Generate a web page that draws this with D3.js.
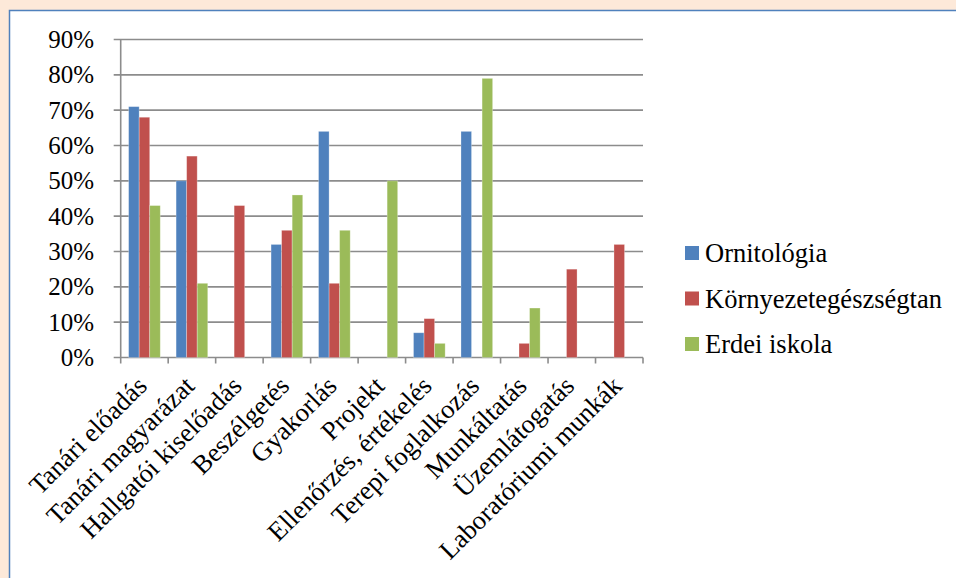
<!DOCTYPE html>
<html>
<head>
<meta charset="utf-8">
<script src="https://cdn.jsdelivr.net/npm/d3@7"></script>
<style>
  body { margin: 0; background: #fde9d9; }
  svg { display: block; }
</style>
</head>
<body>
<svg class="chart" width="956" height="578"></svg>
<script>
// categories and values (percent)
const categories = ["Tanári előadás", "Tanári magyarázat", "Hallgatói kiselőadás", "Beszélgetés",
  "Gyakorlás", "Projekt", "Ellenőrzés, értékelés", "Terepi foglalkozás", "Munkáltatás",
  "Üzemlátogatás", "Laboratóriumi munkák"]
const seriesNames = ["Ornitológia", "Környezetegészségtan", "Erdei iskola"]
const ornitologia = [71, 50, 0, 32, 64, 0, 7, 64, 0, 0, 0]
const kornyezet = [68, 57, 43, 36, 21, 0, 11, 0, 4, 25, 32]
const erdei = [43, 21, 0, 46, 36, 50, 4, 79, 14, 0, 0]
const yTicks = [0, 10, 20, 30, 40, 50, 60, 70, 80, 90]
const colors = ["#4f81bd", "#c0504d", "#9bbb59"]

const font = "'Liberation Serif', 'Times New Roman', 'DejaVu Serif', serif"

const svg = d3.select("svg.chart")
  .attr("font-family", font)

// white chart area with blue border
svg.append("rect")
  .attr("x", 9.5).attr("y", 10.5)
  .attr("width", 960).attr("height", 580)
  .attr("fill", "#fff")
  .attr("stroke", "#4f81bd")
  .attr("stroke-width", 1.5)

const plotLeft = 120.7, plotRight = 643, plotTop = 39.5, plotBottom = 357.5

const x = d3.scaleBand()
  .domain(categories)
  .range([plotLeft, plotRight])

const y = d3.scaleLinear()
  .domain([0, 90])
  .range([plotBottom, plotTop])

const inner = d3.scaleBand()
  .domain(seriesNames)
  .range([0, x.bandwidth()])
  .paddingInner(0)
  .paddingOuter(0.75)

// gridlines
svg.append("g")
  .selectAll("line")
  .data(yTicks)
  .enter()
  .append("line")
  .attr("x1", plotLeft - 7).attr("x2", plotRight)
  .attr("y1", d => y(d)).attr("y2", d => y(d))
  .attr("stroke", "#8c8c8c")
  .attr("stroke-width", 1.6)

// y axis line
svg.append("line")
  .attr("x1", plotLeft).attr("x2", plotLeft)
  .attr("y1", plotTop).attr("y2", plotBottom)
  .attr("stroke", "#8c8c8c")
  .attr("stroke-width", 1.6)

// y labels
svg.append("g")
  .selectAll("text")
  .data(yTicks)
  .enter()
  .append("text")
  .attr("x", 94)
  .attr("y", d => y(d))
  .attr("dy", "0.34em")
  .attr("text-anchor", "end")
  .attr("font-size", 25)
  .text(d => d + "%")

// x tick marks
const boundaries = categories.map(c => x(c)).concat([plotRight])
svg.append("g")
  .selectAll("line")
  .data(boundaries)
  .enter()
  .append("line")
  .attr("x1", d => d).attr("x2", d => d)
  .attr("y1", plotBottom).attr("y2", plotBottom + 6)
  .attr("stroke", "#8c8c8c")
  .attr("stroke-width", 1.6)

// bars
const allSeries = [ornitologia, kornyezet, erdei]
allSeries.forEach((vals, s) => {
  const rows = vals.map((v, i) => ({ cat: categories[i], v: v })).filter(d => d.v > 0)
  svg.append("g")
    .selectAll("rect")
    .data(rows)
    .enter()
    .append("rect")
    .attr("x", d => x(d.cat) + inner(seriesNames[s]))
    .attr("y", d => y(d.v))
    .attr("width", inner.bandwidth())
    .attr("height", d => plotBottom - y(d.v))
    .attr("fill", colors[s])
    .attr("stroke", "#fff")
    .attr("stroke-opacity", 0.35)
    .attr("stroke-width", 0.8)
})

// category labels
svg.append("g")
  .selectAll("text")
  .data(categories)
  .enter()
  .append("text")
  .attr("transform", d => `translate(${x(d) + x.bandwidth() / 2 + 4},${plotBottom + 30}) rotate(-45)`)
  .attr("text-anchor", "end")
  .attr("font-size", 26.5)
  .text(d => d)

// legend
const legend = svg.append("g")
  .selectAll("g")
  .data(seriesNames)
  .enter()
  .append("g")
  .attr("transform", (d, i) => `translate(685,${253 + i * 45.5})`)

legend.append("rect")
  .attr("x", 0).attr("y", -7)
  .attr("width", 14).attr("height", 14)
  .attr("fill", (d, i) => colors[i])

legend.append("text")
  .attr("x", 20)
  .attr("dy", "0.34em")
  .attr("font-size", 26.5)
  .text(d => d)
</script>
</body>
</html>
